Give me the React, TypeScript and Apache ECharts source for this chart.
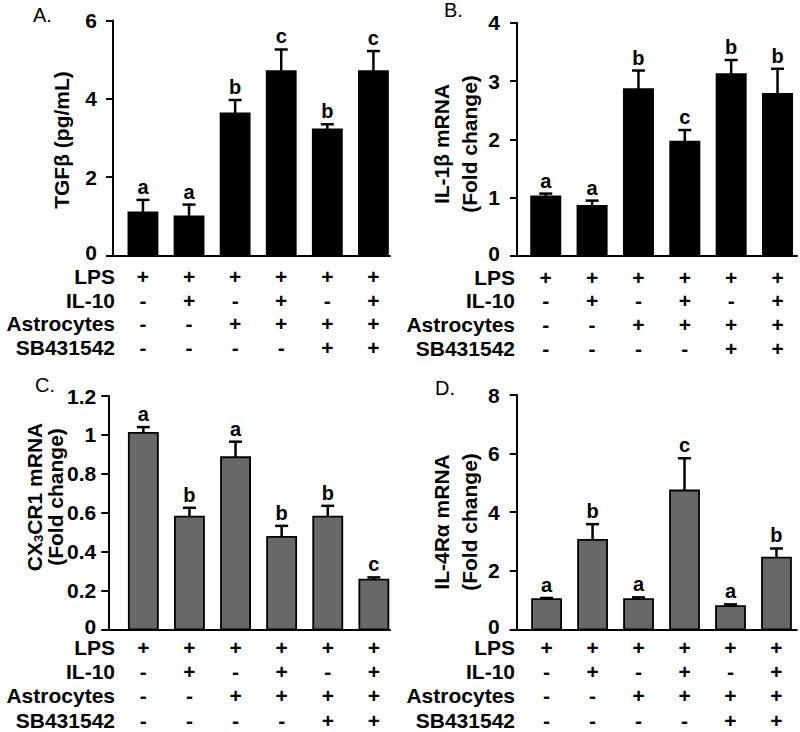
import React, { useEffect, useRef } from "react";
import * as echarts from "echarts";

const FONT = "'Liberation Sans', Arial, Helvetica, sans-serif";

// ---- Treatment table (columns = groups) ----
const rowLabels = ["LPS", "IL-10", "Astrocytes", "SB431542"];
const lps = ["+", "+", "+", "+", "+", "+"];
const il10 = ["-", "+", "-", "+", "-", "+"];
const astrocytes = ["-", "-", "+", "+", "+", "+"];
const sb431542 = ["-", "-", "-", "-", "+", "+"];
const tableRows = [lps, il10, astrocytes, sb431542];

// ---- Panel A: TGFβ (pg/mL) ----
const tgfMean = [1.1, 1.0, 3.63, 4.71, 3.22, 4.71];
const tgfErr = [0.32, 0.3, 0.34, 0.55, 0.13, 0.51];
const tgfLetters = ["a", "a", "b", "c", "b", "c"];

// ---- Panel B: IL-1β mRNA ----
const il1bMean = [1.02, 0.86, 2.86, 1.96, 3.12, 2.78];
const il1bErr = [0.05, 0.09, 0.32, 0.2, 0.24, 0.43];
const il1bLetters = ["a", "a", "b", "c", "b", "b"];

// ---- Panel C: CX3CR1 mRNA ----
const cx3cr1Mean = [1.01, 0.58, 0.885, 0.475, 0.58, 0.255];
const cx3cr1Err = [0.03, 0.045, 0.08, 0.057, 0.055, 0.012];
const cx3cr1Letters = ["a", "b", "a", "b", "b", "c"];

// ---- Panel D: IL-4Rα mRNA ----
const il4raMean = [1.03, 3.05, 1.03, 4.74, 0.79, 2.45];
const il4raErr = [0.04, 0.54, 0.06, 1.1, 0.06, 0.31];
const il4raLetters = ["a", "b", "a", "c", "a", "b"];

const BAR_W = 0.63;

const panels = [
  {
    label: "A.", labelPos: [33, 15],
    mean: tgfMean, err: tgfErr, letters: tgfLetters, fill: "#000000",
    yMax: 6, yInterval: 2,
    grid: { left: 113, top: 20.5, width: 277, height: 235 },
    xMin: -0.65, xMax: 5.36, tickMargin: 16,
    rowOffsets: [21, 44.5, 68, 92], rowLabelRight: 115,
    title: { text: "TGFβ (pg/mL)", x: 61, y: 140, lineHeight: 24, rich: false },
  },
  {
    label: "B.", labelPos: [444, 10],
    mean: il1bMean, err: il1bErr, letters: il1bLetters, fill: "#000000",
    yMax: 4, yInterval: 1,
    grid: { left: 517, top: 22.7, width: 280, height: 233.3 },
    xMin: -0.62, xMax: 5.42, tickMargin: 17,
    rowOffsets: [21, 44.5, 68, 92], rowLabelRight: 515,
    title: { text: "IL-1β mRNA\n(Fold change)", x: 455, y: 144, lineHeight: 28, rich: false },
  },
  {
    label: "C.", labelPos: [35, 385],
    mean: cx3cr1Mean, err: cx3cr1Err, letters: cx3cr1Letters, fill: "#686868",
    yMax: 1.2, yInterval: 0.2,
    grid: { left: 108.3, top: 396, width: 281.7, height: 233.3 },
    xMin: -0.76, xMax: 5.35, tickMargin: 12,
    rowOffsets: [18.5, 42, 66.5, 91], rowLabelRight: 115,
    title: { text: "{n|CX}{s|3}{n|CR1 mRNA}\n{n|(Fold change)}", x: 45, y: 497, lineHeight: 21, rich: true },
  },
  {
    label: "D.", labelPos: [435, 388],
    mean: il4raMean, err: il4raErr, letters: il4raLetters, fill: "#686868",
    yMax: 8, yInterval: 2,
    grid: { left: 516.7, top: 395, width: 280, height: 234.3 },
    xMin: -0.65, xMax: 5.44, tickMargin: 17,
    rowOffsets: [18.5, 42, 66.5, 91], rowLabelRight: 515,
    title: { text: "IL-4Rα mRNA\n(Fold change)", x: 455, y: 522, lineHeight: 28, rich: false },
  },
];

function buildOption() {
  const grid = panels.map((p) => ({ ...p.grid }));
  const xAxis = panels.map((p, i) => ({
    type: "value",
    gridIndex: i,
    min: p.xMin,
    max: p.xMax,
    axisLine: { show: true, onZero: false, lineStyle: { color: "#000", width: 2 } },
    axisTick: { show: false },
    axisLabel: { show: false },
    splitLine: { show: false },
  }));
  const yAxis = panels.map((p, i) => ({
    type: "value",
    gridIndex: i,
    min: 0,
    max: p.yMax,
    interval: p.yInterval,
    axisLine: { show: true, onZero: false, lineStyle: { color: "#000", width: 2 } },
    axisTick: { show: true, length: 7, lineStyle: { color: "#000", width: 2 } },
    axisLabel: {
      margin: p.tickMargin,
      color: "#000",
      fontSize: 21,
      lineHeight: 15,
      fontWeight: "bold",
      fontFamily: FONT,
      formatter: (v: number) => (v === 0 ? "{z|0}" : String(Math.round(v * 10) / 10)),
      rich: {
        z: {
          fontSize: 21,
          lineHeight: 15,
          fontWeight: "bold",
          fontFamily: FONT,
          color: "#000",
          padding: [0, 0, 6, 0],
        },
      },
    },
    splitLine: { show: false },
  }));

  const series: any[] = [];
  panels.forEach((p, pi) => {
    series.push({
      type: "custom",
      xAxisIndex: pi,
      yAxisIndex: pi,
      silent: true,
      data: p.mean.map((m, i) => [i, m, p.err[i]]),
      renderItem: (params: any, api: any) => {
        const x = api.value(0);
        const y = api.value(1);
        const e = api.value(2);
        const base = api.coord([x, 0]);
        const top = api.coord([x, y]);
        const et = api.coord([x, y + e]);
        const w = api.size([BAR_W, 0])[0];
        const cap = 13;
        return {
          type: "group",
          children: [
            {
              type: "rect",
              shape: { x: base[0] - w / 2, y: top[1], width: w, height: base[1] - top[1] },
              style: { fill: p.fill, stroke: "#000", lineWidth: 1.8 },
            },
            {
              type: "line",
              shape: { x1: top[0], y1: top[1], x2: et[0], y2: et[1] },
              style: { stroke: "#000", lineWidth: 2.5 },
            },
            {
              type: "line",
              shape: { x1: et[0] - cap / 2, y1: et[1], x2: et[0] + cap / 2, y2: et[1] },
              style: { stroke: "#000", lineWidth: 2.5 },
            },
            {
              type: "text",
              x: et[0],
              y: et[1] - 3,
              style: {
                text: p.letters[params.dataIndex],
                textAlign: "center",
                textVerticalAlign: "bottom",
                fontSize: 20,
                fontWeight: "bold",
                fontFamily: FONT,
                fill: "#000",
              },
            },
          ],
        };
      },
    });
    // treatment table symbols
    series.push({
      type: "custom",
      xAxisIndex: pi,
      yAxisIndex: pi,
      silent: true,
      data: p.mean.map((_, i) => [i, 0]),
      renderItem: (params: any, api: any) => {
        const c = api.coord([api.value(0), 0]);
        return {
          type: "group",
          children: tableRows.map((row, k) => ({
            type: "text",
            x: c[0],
            y: c[1] + p.rowOffsets[k],
            style: {
              text: row[params.dataIndex],
              textAlign: "center",
              textVerticalAlign: "middle",
              fontSize: 21,
              lineHeight: 17,
              fontWeight: "bold",
              fontFamily: FONT,
              fill: "#000",
            },
          })),
        };
      },
    });
  });

  const graphic: any[] = [];
  panels.forEach((p) => {
    const bottom = p.grid.top + p.grid.height;
    rowLabels.forEach((lab, k) => {
      graphic.push({
        type: "text",
        x: p.rowLabelRight,
        y: bottom + p.rowOffsets[k],
        style: {
          text: lab,
          textAlign: "right",
          textVerticalAlign: "middle",
          fontSize: 21,
          lineHeight: 17,
          fontWeight: "bold",
          fontFamily: FONT,
          fill: "#000",
        },
      });
    });
    graphic.push({
      type: "text",
      x: p.labelPos[0],
      y: p.labelPos[1],
      style: {
        text: p.label,
        textAlign: "left",
        textVerticalAlign: "middle",
        fontSize: 20,
        fontFamily: FONT,
        fill: "#000",
      },
    });
    const t = p.title;
    const style: any = {
      text: t.text,
      textAlign: "center",
      textVerticalAlign: "middle",
      fontSize: 21,
      fontWeight: "bold",
      fontFamily: FONT,
      lineHeight: t.lineHeight,
      fill: "#000",
    };
    if (t.rich) {
      style.rich = {
        n: { fontSize: 21, fontWeight: "bold", fontFamily: FONT, lineHeight: t.lineHeight, fill: "#000" },
        s: { fontSize: 13, fontWeight: "bold", fontFamily: FONT, lineHeight: t.lineHeight, verticalAlign: "bottom", fill: "#000" },
      };
    }
    graphic.push({
      type: "text",
      x: t.x,
      y: t.y,
      rotation: Math.PI / 2,
      style,
    });
  });

  return {
    animation: false,
    backgroundColor: "#ffffff",
    grid,
    xAxis,
    yAxis,
    series,
    graphic,
  };
}

export default function App() {
  const ref = useRef<HTMLDivElement>(null);
  useEffect(() => {
    document.body.style.margin = "0";
    const chart = echarts.init(ref.current as HTMLDivElement, null, { renderer: "svg" });
    chart.setOption(buildOption() as any);
    return () => chart.dispose();
  }, []);
  return <div ref={ref} style={{ width: 800, height: 732 }} />;
}
